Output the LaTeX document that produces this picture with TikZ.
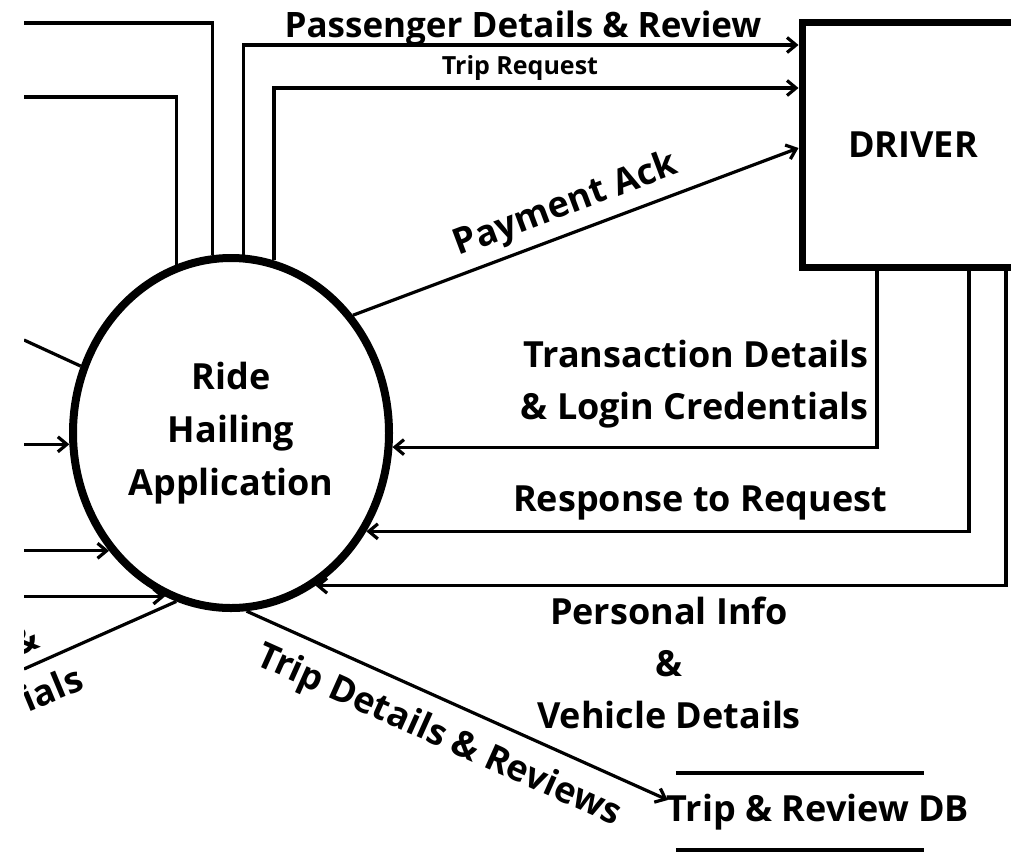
\documentclass[tikz,border=0pt]{standalone}
\usepackage{fontspec}
\setmainfont{Open Sans}
\usetikzlibrary{arrows.meta,shapes.geometric,calc}
\begin{document}
\begin{tikzpicture}[x=1pt,y=-1pt,
  conn/.style={line width=3.2pt},
  arr/.style={line width=3.2pt,-{Straight Barb[length=9pt,width=15pt]}},
  lbl/.style={font=\fontsize{36pt}{52pt}\selectfont\bfseries, inner sep=0pt},
  smalllbl/.style={font=\fontsize{25pt}{30pt}\selectfont\bfseries, inner sep=0pt},
  process/.style={draw, ellipse, line width=8pt, minimum width=316pt, minimum height=350pt, inner sep=0pt, align=center, font=\fontsize{36pt}{53pt}\selectfont\bfseries},
  entity/.style={draw, rectangle, line width=7pt, minimum width=222pt, minimum height=245pt, inner sep=0pt, font=\fontsize{36pt}{40pt}\selectfont\bfseries},
  store/.style={minimum width=248pt, minimum height=77pt, inner sep=0pt},
  storeline/.style={line width=3.5pt}
]
\useasboundingbox (0,0) rectangle (1011,852);
\fill[white] (0,0) rectangle (1011,852);
\clip (24,0) rectangle (1011,852);

\node[process] (app) at (231,433) {Ride\\Hailing\\Application};
\node[entity] (driver) at (913,144.5) {DRIVER};
\node[store] (db) at (800,811.5) {};
\draw[storeline] (db.north west) -- (db.north east);
\draw[storeline] (db.south west) -- (db.south east);
\node[lbl] (dbtext) at (818,812) {Trip \& Review DB};

\coordinate (lx) at (24,0);
\coordinate (e0) at (24,340);
\coordinate (e1) at (24,23);
\coordinate (e2) at (24,97);
\coordinate (e5) at (24,669);

% top
\draw[conn] (app.96.9) |- (e1);
\draw[conn] (app.108.2) |- (e2);
\draw[arr] (app.86.1) |- ($(driver.west)+(0,-99.5)$);
\draw[arr] (app.76.3) |- ($(driver.west)+(0,-56.5)$);
\draw[arr] (app.44) -- ($(driver.west)+(0,3.5)$) node[lbl, midway, sloped, above=8pt] (lblpay) {Payment Ack};
\node[lbl, font=\fontsize{35pt}{40pt}\selectfont\bfseries] (lblpass) at (523,28) {Passenger Details \& Review};
\node[smalllbl] (lbltrip) at (520,68) {Trip Request};

% right
\draw[arr] ($(driver.south west)+(78.5,0)$) |- (app.-5.5);
\draw[arr] ($(driver.south west)+(170.5,0)$) |- (app.-36.5);
\draw[arr] ($(driver.south west)+(207.5,0)$) |- (app.-61.6);
\node[lbl, align=right, anchor=east] (lbltd) at (869,384) {Transaction Details\\\& Login Credentials};
\node[lbl] (lblresp) at (700,503) {Response to Request};
\node[lbl, align=center] (lblpers) at (669,663) {Personal Info\\\&\\Vehicle Details};

% bottom
\draw[arr] (app.-85) -- ($(db.west)+(-8,-11.5)$) node[lbl, pos=0.49, sloped, below=16pt] (lbltdr) {Trip Details \& Reviews};

% left
\draw[conn] (app.156.4) -- (e0);
\draw[arr] (app.184.7 -| lx) -- (app.184.7);
\draw[arr] (app.224.5 -| lx) -- (app.224.5);
\draw[arr] (app.248 -| lx) -- (app.248);
\draw[conn] (app.252.7) -- (e5);
\node[lbl, rotate=22.6] (lblamp) at (24,640) {\&};
\node[lbl, rotate=22.6] (lblials) at (52,688) {ials};
\end{tikzpicture}
\end{document}
